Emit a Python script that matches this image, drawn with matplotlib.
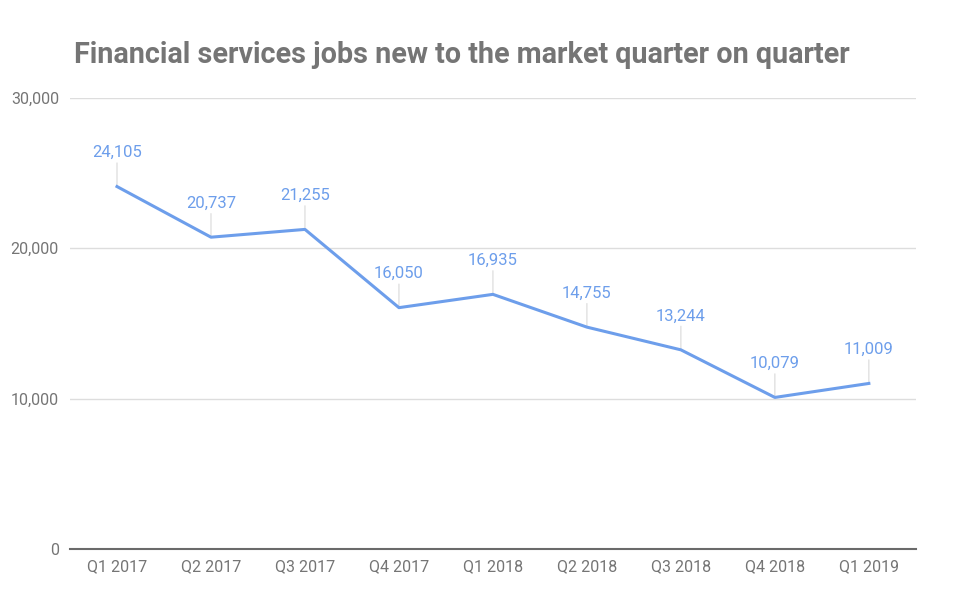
import matplotlib.pyplot as plt
from matplotlib.ticker import FuncFormatter

quarters = ['Q1 2017', 'Q2 2017', 'Q3 2017', 'Q4 2017', 'Q1 2018',
            'Q2 2018', 'Q3 2018', 'Q4 2018', 'Q1 2019']
jobs = [24105, 20737, 21255, 16050, 16935, 14755, 13244, 10079, 11009]
y_ticks = [0, 10000, 20000, 30000]

plt.rcParams['font.family'] = ['Roboto', 'DejaVu Sans']

blue = '#6d9eeb'
grey = '#757575'

fig = plt.figure(figsize=(9.59, 6.12), dpi=100)
ax = fig.add_axes([0.073, 0.103, 0.882, 0.737])

x = list(range(len(quarters)))
ax.plot(x, jobs, color=blue, lw=2.2, solid_joinstyle='round', zorder=3)

for xi, v in zip(x, jobs):
    # thin leader line from the point up to the label
    ax.annotate('', xy=(xi, v), xytext=(0, 17), textcoords='offset points',
                arrowprops=dict(arrowstyle='-', color='#d9d9d9', lw=0.8,
                                shrinkA=0, shrinkB=0), zorder=2)
    ax.annotate(f'{v:,}', xy=(xi, v), xytext=(0, 19), textcoords='offset points',
                ha='center', va='bottom', color=blue, fontsize=12)

ax.set_xlim(-0.5, len(quarters) - 0.5)
ax.set_ylim(0, 30000)
ax.set_yticks(y_ticks)
ax.yaxis.set_major_formatter(FuncFormatter(lambda v, p: f'{int(v):,}'))
ax.set_xticks(x)
ax.set_xticklabels(quarters)

ax.grid(axis='y', color='#dddddd', lw=1)
ax.set_axisbelow(True)
for s in ['top', 'right', 'left']:
    ax.spines[s].set_visible(False)
ax.spines['bottom'].set_color('#6a6a6a')
ax.spines['bottom'].set_linewidth(1.5)
ax.spines['bottom'].set_zorder(4)
ax.tick_params(axis='both', length=0, colors=grey, labelsize=11.5)
ax.tick_params(axis='y', pad=8)
ax.tick_params(axis='x', pad=7)

fig.text(0.077, 0.91, 'Financial services jobs new to the market quarter on quarter',
         fontsize=20.7, fontweight='bold', color=grey, ha='left', va='center')

fig.savefig('out.png', dpi=100, facecolor='white')
